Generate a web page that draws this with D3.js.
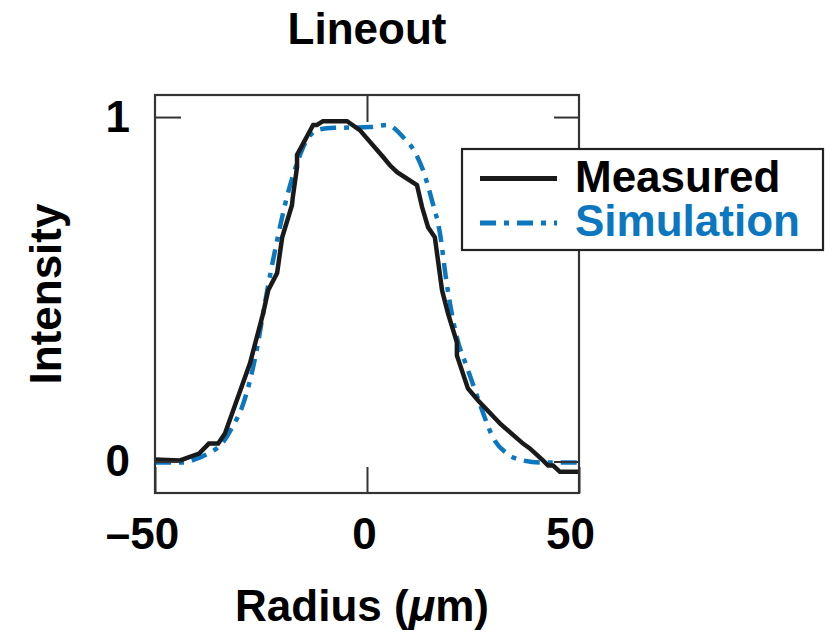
<!DOCTYPE html>
<html>
<head>
<meta charset="utf-8">
<script src="https://cdn.jsdelivr.net/npm/d3@7"></script>
<style>
  html, body { margin: 0; padding: 0; background: #fff; }
  svg { display: block; }
  text { font-family: "Liberation Sans", Arial, Helvetica, sans-serif; font-weight: bold; }
</style>
</head>
<body>
<svg id="chart" width="834" height="633"></svg>
<script>
// ---- data ----
const measuredX = [-50,-44.1,-39.6,-37.3,-35.1,-33.5,-27.6,-24.5,-23.3,-21.2,-20.0,-17.7,-17.5,-16.5,-16.5,-12.7,-11.8,-10.4,-4.7,-1.7,3.8,5.4,7.1,11.8,13.0,14.4,16.0,17.7,19.1,21.2,21.2,23.8,26.2,30.7,31.4,36.8,38.4,41.5,42.7,43.9,45.5,50];
const measuredY = [0.006,0.003,0.023,0.052,0.052,0.081,0.285,0.430,0.497,0.547,0.651,0.744,0.767,0.855,0.890,0.977,0.977,0.988,0.988,0.962,0.884,0.860,0.840,0.802,0.738,0.680,0.651,0.497,0.430,0.346,0.308,0.212,0.177,0.119,0.110,0.052,0.038,0.003,-0.012,-0.012,-0.030,-0.030];
const simX = [-50,-43.4,-39.4,-37.0,-34.2,-31.8,-29.5,-27.6,-25.9,-24.5,-23.3,-21.2,-18.9,-16.5,-14.2,-11.8,-8.7,0.7,4.7,8.5,11.3,13.2,15.3,17.2,18.75,21.2,23.6,25.5,27.4,29.7,33.0,36.8,40.8,50];
const simY = [-0.003,-0.003,0.012,0.026,0.052,0.099,0.157,0.235,0.331,0.430,0.512,0.642,0.767,0.866,0.933,0.962,0.968,0.971,0.977,0.942,0.898,0.846,0.759,0.663,0.521,0.360,0.273,0.206,0.140,0.070,0.023,0.003,-0.003,-0.003];
const xTicks = [-50, 0, 50];
const yTicks = [0, 1];
const seriesNames = ["Measured", "Simulation"];
const titleText = "Lineout";
const xLabel = "Radius";
const yLabel = "Intensity";

// ---- layout ----
const svg = d3.select("#chart");
const L = 155, R = 579, T = 95, B = 493;
const x = d3.scaleLinear().domain([-50, 50]).range([L, R]);
const y = d3.scaleLinear().domain([-0.0915, 1.064]).range([B, T]);
const black = "#1a1a1a", blue = "#0a77c0", frameCol = "#333";
const FS = 44;

// title
svg.append("text").attr("x", 367).attr("y", 44).attr("text-anchor", "middle")
  .attr("font-size", FS).attr("fill", "#000").text(titleText);

// curves
const measured = measuredX.map((v, i) => [v, measuredY[i]]);
const sim = simX.map((v, i) => [v, simY[i]]);
const g = svg.append("g");
g.append("path").datum(sim)
  .attr("d", d3.line().x(d => x(d[0])).y(d => y(d[1])).curve(d3.curveMonotoneX))
  .attr("fill", "none").attr("stroke", blue).attr("stroke-width", 4.5)
  .attr("stroke-dasharray", "16,8,5,8");
g.append("path").datum(measured)
  .attr("d", d3.line().x(d => x(d[0])).y(d => y(d[1])))
  .attr("fill", "none").attr("stroke", black).attr("stroke-width", 4.5)
  .attr("stroke-linejoin", "miter");

// axes
function styleAxis(sel) {
  sel.select(".domain").remove();
  sel.selectAll(".tick line").attr("stroke", frameCol).attr("stroke-width", 2);
  sel.selectAll(".tick text").attr("font-size", FS).attr("fill", "#000")
    .attr("font-family", "Liberation Sans, Arial, sans-serif").attr("font-weight", "bold");
}
const fmt = d => d < 0 ? "\u2013" + Math.abs(d) : String(d);

const ax = svg.append("g").attr("transform", `translate(0,${B})`)
  .call(d3.axisBottom(x).tickValues(xTicks).tickSize(-26).tickPadding(25).tickFormat(fmt));
styleAxis(ax);
ax.selectAll(".tick text").attr("dx", d => d === -50 ? -13 : d === 50 ? -9 : -3);

const axT = svg.append("g").attr("transform", `translate(0,${T})`)
  .call(d3.axisTop(x).tickValues([0]).tickSize(-27).tickFormat(""));
styleAxis(axT);

const ay = svg.append("g").attr("transform", `translate(${L},0)`)
  .call(d3.axisLeft(y).tickValues(yTicks).tickSize(-26).tickPadding(25).tickFormat(d3.format("d")));
styleAxis(ay);

const ayR = svg.append("g").attr("transform", `translate(${R},0)`)
  .call(d3.axisRight(y).tickValues(yTicks).tickSize(-25).tickFormat(""));
styleAxis(ayR);

// frame
svg.append("rect").attr("x", L).attr("y", T).attr("width", R - L).attr("height", B - T)
  .attr("fill", "none").attr("stroke", frameCol).attr("stroke-width", 2.2);

// axis titles
const xt = svg.append("text").attr("x", 362).attr("y", 621).attr("text-anchor", "middle")
  .attr("font-size", FS).attr("fill", "#000");
xt.append("tspan").text(xLabel + " (");
xt.append("tspan").attr("font-style", "italic").text("\u03bc");
xt.append("tspan").text("m)");

svg.append("text").attr("transform", "translate(61,294) rotate(-90)")
  .attr("text-anchor", "middle").attr("font-size", FS).attr("fill", "#000").text(yLabel);

// legend
const lg = svg.append("g");
lg.append("rect").attr("x", 462).attr("y", 149).attr("width", 361).attr("height", 101)
  .attr("fill", "#fff").attr("stroke", "#222").attr("stroke-width", 2.2);
const legendItems = [
  { name: seriesNames[0], color: black, dash: null, ly: 178.5, ty: 192 },
  { name: seriesNames[1], color: blue, dash: "16,8,5,8", ly: 223, ty: 236 }
];
legendItems.forEach(it => {
  lg.append("line").attr("x1", 480).attr("x2", 557).attr("y1", it.ly).attr("y2", it.ly)
    .attr("stroke", it.color).attr("stroke-width", 5)
    .attr("stroke-dasharray", it.dash);
  lg.append("text").attr("x", 575).attr("y", it.ty).attr("font-size", FS)
    .attr("fill", it.color === black ? "#000" : it.color).text(it.name);
});
</script>
</body>
</html>
